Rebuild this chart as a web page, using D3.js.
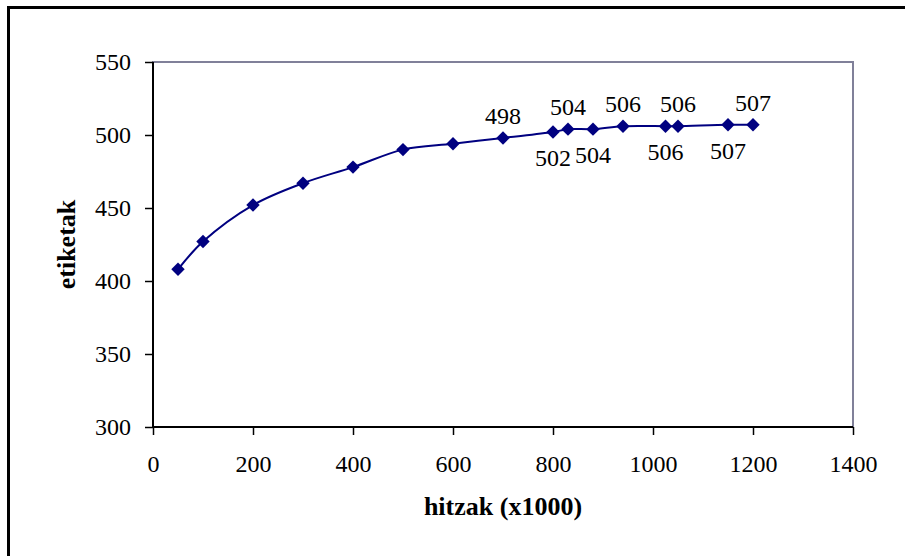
<!DOCTYPE html>
<html>
<head>
<meta charset="utf-8">
<style>
  body { margin: 0; background: #fff; }
  svg { display: block; }
</style>
</head>
<body>
<script src="https://d3js.org/d3.v7.min.js"></script>
<script>
  // data
  const hitzak = [50, 100, 200, 300, 400, 500, 600, 700, 800, 830, 880, 940, 1025, 1050, 1150, 1200]
  const etiketak = [408, 427, 452, 467, 478, 490, 494, 498, 502, 504, 504, 506, 506, 506, 507, 507]
  // which points get a value label, and on which side
  const labelSide = [null, null, null, null, null, null, null, 'up', 'down', 'up', 'down', 'up', 'down', 'up', 'down', 'up']
  const xTicks = [0, 200, 400, 600, 800, 1000, 1200, 1400]
  const yTicks = [300, 350, 400, 450, 500, 550]

  const data = hitzak.map((x, i) => ({ x, y: etiketak[i], side: labelSide[i] }))

  const width = 905
  const height = 556
  const margins = { top: 62, right: 52, bottom: 129, left: 153 }
  const innerW = width - margins.left - margins.right
  const innerH = height - margins.top - margins.bottom
  const navy = '#000080'
  const font = '"Liberation Serif", "Times New Roman", serif'

  const svg = d3.select('body')
    .append('svg')
    .attr('width', width)
    .attr('height', height)

  // outer frame (right and bottom edges fall outside the picture)
  svg.append('rect')
    .attr('x', 8.5).attr('y', 7.5)
    .attr('width', 1000).attr('height', 1000)
    .attr('fill', 'none')
    .attr('stroke', '#000')
    .attr('stroke-width', 3)

  const g = svg.append('g')
    .attr('transform', `translate(${margins.left}, ${margins.top})`)

  const x = d3.scaleLinear().domain([0, 1400]).range([0, innerW])
  const y = d3.scaleLinear().domain([300, 550]).range([innerH, 0])

  // plot area border (grey)
  g.append('rect')
    .attr('x', 0).attr('y', 0)
    .attr('width', innerW).attr('height', innerH)
    .attr('fill', 'none')
    .attr('stroke', '#808099')
    .attr('stroke-width', 2)

  // x axis
  const xAxis = d3.axisBottom(x).tickValues(xTicks).tickSize(8).tickPadding(20).tickFormat(d3.format('d'))
  const gx = g.append('g')
    .attr('transform', `translate(0, ${innerH})`)
    .call(xAxis)
  gx.select('.domain').attr('d', `M0,0H${innerW}`).attr('stroke-width', 2)
  gx.selectAll('.tick line').attr('stroke-width', 1.5)
  gx.selectAll('text').attr('font-family', font).attr('font-size', 24).attr('fill', '#000')

  // y axis
  const yAxis = d3.axisLeft(y).tickValues(yTicks).tickSize(8).tickPadding(14)
  const gy = g.append('g').call(yAxis)
  gy.select('.domain').attr('d', `M0,${innerH}V0`).attr('stroke-width', 2)
  gy.selectAll('.tick line').attr('stroke-width', 1.5)
  gy.selectAll('text').attr('font-family', font).attr('font-size', 24).attr('fill', '#000')

  // axis titles
  g.append('text')
    .attr('x', innerW / 2)
    .attr('y', innerH + 88)
    .attr('text-anchor', 'middle')
    .attr('font-family', font)
    .attr('font-weight', 'bold')
    .attr('font-size', 26)
    .text('hitzak (x1000)')

  g.append('text')
    .attr('transform', `translate(-78, ${innerH / 2}) rotate(-90)`)
    .attr('text-anchor', 'middle')
    .attr('font-family', font)
    .attr('font-weight', 'bold')
    .attr('font-size', 26)
    .text('etiketak')

  // smoothed line
  const line = d3.line()
    .x(d => x(d.x))
    .y(d => y(d.y))
    .curve(d3.curveCatmullRom.alpha(0.5))

  g.append('path')
    .datum(data)
    .attr('d', line)
    .attr('fill', 'none')
    .attr('stroke', navy)
    .attr('stroke-width', 2)

  // diamond markers
  g.selectAll('.marker')
    .data(data)
    .enter().append('path')
    .attr('class', 'marker')
    .attr('transform', d => `translate(${x(d.x)}, ${y(d.y)}) rotate(45)`)
    .attr('d', d3.symbol().type(d3.symbolSquare).size(90))
    .attr('fill', navy)

  // value labels
  g.selectAll('.label')
    .data(data.filter(d => d.side))
    .enter().append('text')
    .attr('class', 'label')
    .attr('x', d => x(d.x))
    .attr('y', d => y(d.y) + (d.side === 'up' ? -14 : 34))
    .attr('text-anchor', 'middle')
    .attr('font-family', font)
    .attr('font-size', 24)
    .attr('fill', '#000')
    .text(d => d.y)
</script>
</body>
</html>
